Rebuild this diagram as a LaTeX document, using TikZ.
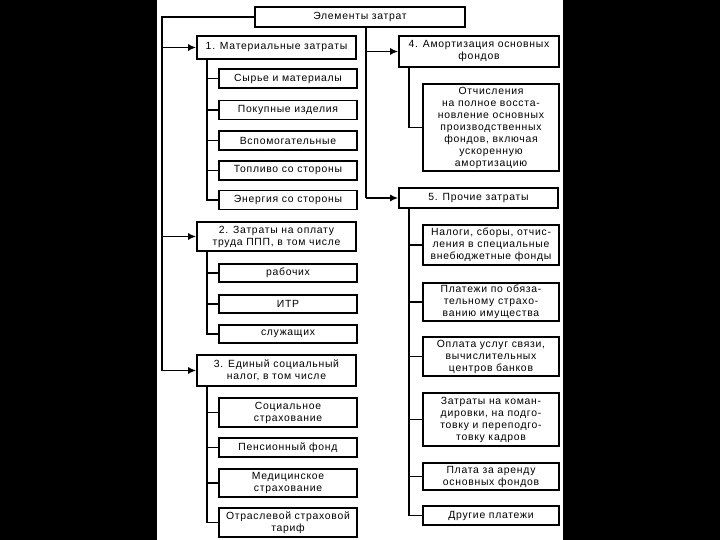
\documentclass[tikz,border=0pt]{standalone}
\usepackage{fontspec}
\newfontfamily\df{Liberation Sans}[LetterSpace=7]
\usetikzlibrary{arrows.meta}
\tikzset{
  bx/.style={draw, line width=1.6pt, align=center, inner sep=0pt,
    font={\df\fontsize{10.4}{12}\selectfont}},
  ln/.style={line width=1.6pt},
  ar/.style={line width=1.6pt, -{Latex[length=8pt,width=7pt]}}
}
\newcommand\bxat[6]{\node[bx, minimum width=#4pt, minimum height=#5pt] (#1) at (#2,#3) {#6};}
\begin{document}
\begin{tikzpicture}[x=1pt,y=-1pt]
\useasboundingbox (0,0) rectangle (720,540);
\fill[white] (157,0) rectangle (563,540);
\fill[black] (0,0) rectangle (157,540);
\fill[black] (563,0) rectangle (720,540);
% main
\bxat{main}{360}{17}{210}{20}{Элементы затрат}
% left column
\bxat{b1}{276.5}{47.5}{159}{23}{1. Материальные затраты}
\bxat{s11}{288}{78.5}{138}{19}{Сырье и материалы}
\bxat{s12}{288}{110}{138}{19}{Покупные изделия}
\bxat{s13}{288}{140.5}{138}{19}{Вспомогательные}
\bxat{s14}{288}{170.5}{138}{19}{Топливо со стороны}
\bxat{s15}{288}{200}{138}{19}{Энергия со стороны}
\bxat{b2}{276.5}{236.5}{159}{29}{2. Затраты на оплату\\труда ППП, в том числе}
\bxat{s21}{288}{273}{138}{18}{рабочих}
\bxat{s22}{288}{304}{138}{18}{ИТР}
\bxat{s23}{288}{334}{138}{18}{служащих}
\bxat{b3}{276.5}{370.5}{159}{31}{3. Единый социальный\\налог, в том числе}
\bxat{s31}{288}{412.5}{138}{29}{Социальное\\страхование}
\bxat{s32}{288}{447.5}{138}{19}{Пенсионный фонд}
\bxat{s33}{288}{483}{138}{28}{Медицинское\\страхование}
\bxat{s34}{288}{522.5}{138}{29}{Отраслевой страховой\\тариф}
% right column
\bxat{b4}{479}{51.5}{160}{31}{4. Амортизация основных\\фондов}
\bxat{r41}{491}{127.5}{136}{87}{Отчисления\\на полное восста-\\новление основных\\производственных\\фондов, включая\\ускоренную\\амортизацию}
\bxat{b5}{478.5}{198}{159}{20}{5. Прочие затраты}
\bxat{r51}{491}{245}{136}{40}{Налоги, сборы, отчис-\\ления в специальные\\внебюджетные фонды}
\bxat{r52}{491}{302}{136}{38}{Платежи по обяза-\\тельному страхо-\\ванию имущества}
\bxat{r53}{491}{356.5}{136}{39}{Оплата услуг связи,\\вычислительных\\центров  банков}
\bxat{r54}{491}{419.5}{136}{53}{Затраты на коман-\\дировки, на подго-\\товку и переподго-\\товку кадров}
\bxat{r55}{491}{476.5}{136}{27}{Плата за аренду\\основных фондов}
\bxat{r56}{491}{515.5}{136}{19}{Другие платежи}
% coordinates
\coordinate (lt) at (162,17);
\coordinate (lb) at (162,370.5);
\coordinate (mt) at (366,27);
\coordinate (mb) at (366,198);
% outer left trunk
\draw[ln] (main.west) -- (lt) -- (lb);
\draw[ar] (lb) -- (b3.west);
\draw[ar] (lt |- b1.west) -- (b1.west);
\draw[ar] (lt |- b2.west) -- (b2.west);
% middle trunk
\draw[ln] (mt) -- (mb);
\draw[ar] (mb) -- (b5.west);
\draw[ar] (mt |- b4.west) -- (b4.west);
% left sub trunks
\draw[ln] (207,0 |- b1.south) -- (207,0 |- s15.west) -- (s15.west);
\foreach \n in {s11,s12,s13,s14} \draw[ln] (207,0 |- \n.west) -- (\n.west);
\draw[ln] (207,0 |- b2.south) -- (207,0 |- s23.west) -- (s23.west);
\foreach \n in {s21,s22} \draw[ln] (207,0 |- \n.west) -- (\n.west);
\draw[ln] (207,0 |- b3.south) -- (207,0 |- s34.west) -- (s34.west);
\foreach \n in {s31,s32,s33} \draw[ln] (207,0 |- \n.west) -- (\n.west);
% right sub trunks
\draw[ln] (409,0 |- b4.south) -- (409,0 |- r41.west) -- (r41.west);
\draw[ln] (409,0 |- b5.south) -- (409,0 |- r56.west) -- (r56.west);
\foreach \n in {r51,r52,r53,r54,r55} \draw[ln] (409,0 |- \n.west) -- (\n.west);
\end{tikzpicture}
\end{document}
